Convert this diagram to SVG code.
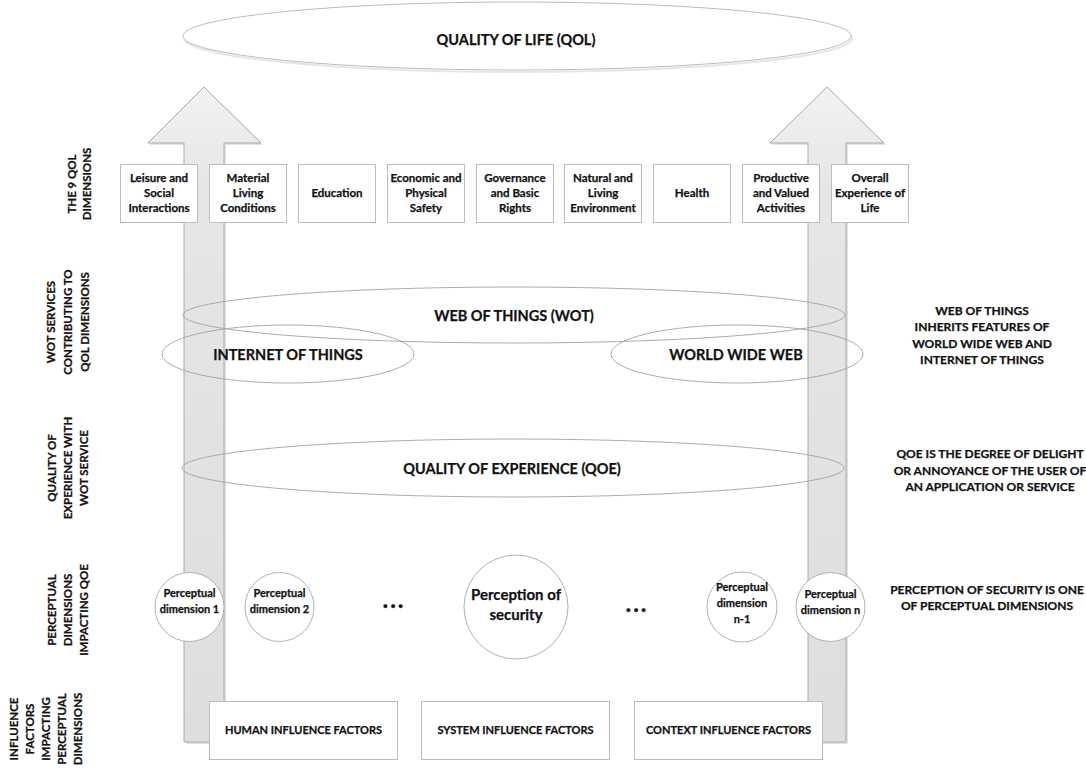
<svg xmlns="http://www.w3.org/2000/svg" width="1086" height="769" viewBox="0 0 1086 769">
<style>
text{font-family:Lato,"Liberation Sans",sans-serif;font-weight:bold;fill:#111;stroke:#111;stroke-width:0.25;text-anchor:middle}
.box{fill:#fff;stroke:#bdbdbd;stroke-width:1}
.ell{fill:none;stroke:#a3a3a3;stroke-width:0.9}
.cir{fill:#fff;stroke:#a8a8a8;stroke-width:0.9}
.arrow{fill:url(#ag);stroke:#a8a8a8;stroke-width:1}
.shadow{fill:#e2e2e2}
.lbl{font-size:11.5px}
.big{font-size:14.5px}
.bx{font-size:11.5px}
.pd{font-size:11px}
.note{font-size:12px}
.bf{font-size:11px}
.dots{font-size:24px;letter-spacing:2px}
</style>
<defs>
<linearGradient id="ag" x1="0" y1="0" x2="0" y2="1">
<stop offset="0" stop-color="#f2f2f2"/>
<stop offset="0.15" stop-color="#e6e6e6"/>
<stop offset="1" stop-color="#dedede"/>
</linearGradient>
</defs>
<rect width="1086" height="769" fill="#fff"/>

<g id="connectors">
<path class="shadow" d="M206,89 L263,145 L226,145 L226,744 L186,744 L186,145 L150,145 Z"/>
<path id="arrow-left" class="arrow" d="M204,87 L261,143 L224,143 L224,742 L184,742 L184,143 L148,143 Z"/>
<path class="shadow" d="M829,89 L886,145 L848,145 L848,744 L810,744 L810,145 L772,145 Z"/>
<path id="arrow-right" class="arrow" d="M827,87 L884,143 L846,143 L846,742 L808,742 L808,143 L770,143 Z"/>
</g>

<g id="qol">
<ellipse cx="518" cy="38" rx="334" ry="34" fill="none" stroke="#e6e6e6" stroke-width="2"/>
<ellipse cx="517" cy="36" rx="334" ry="34" fill="#fff" stroke="#bdbdbd" stroke-width="1"/>
<text x="516" y="45" class="big">QUALITY OF LIFE (QOL)</text>
</g>

<g id="side-labels">
<text class="lbl" transform="translate(0,184) rotate(-90)"><tspan x="0" y="76">THE 9 QOL</tspan><tspan x="0" y="91">DIMENSIONS</tspan></text>
<text class="lbl" transform="translate(0,322) rotate(-90)"><tspan x="0" y="55">WOT SERVICES</tspan><tspan x="0" y="72">CONTRIBUTING TO</tspan><tspan x="0" y="89">QOL DIMENSIONS</tspan></text>
<text class="lbl" transform="translate(0,468) rotate(-90)"><tspan x="0" y="56">QUALITY OF</tspan><tspan x="0" y="72">EXPERIENCE WITH</tspan><tspan x="0" y="88">WOT SERVICE</tspan></text>
<text class="lbl" transform="translate(0,610) rotate(-90)"><tspan x="0" y="56">PERCEPTUAL</tspan><tspan x="0" y="72">DIMENSIONS</tspan><tspan x="0" y="88">IMPACTING QOE</tspan></text>
<text class="lbl" transform="translate(0,729) rotate(-90)"><tspan x="0" y="18">INFLUENCE</tspan><tspan x="0" y="34">FACTORS</tspan><tspan x="0" y="50">IMPACTING</tspan><tspan x="0" y="66">PERCEPTUAL</tspan><tspan x="0" y="82">DIMENSIONS</tspan></text>
</g>

<g id="dim-leisure"><rect class="box" x="120.5" y="164.5" width="77" height="58"/><text class="bx" x="159" y="182">Leisure and<tspan x="159" y="197">Social</tspan><tspan x="159" y="212">Interactions</tspan></text></g>
<g id="dim-material"><rect class="box" x="209.5" y="164.5" width="77" height="58"/><text class="bx" x="248" y="182">Material<tspan x="248" y="197">Living</tspan><tspan x="248" y="212">Conditions</tspan></text></g>
<g id="dim-education"><rect class="box" x="298.5" y="164.5" width="77" height="58"/><text class="bx" x="337" y="197">Education</text></g>
<g id="dim-economic"><rect class="box" x="387.5" y="164.5" width="77" height="58"/><text class="bx" x="426" y="182">Economic and<tspan x="426" y="197">Physical</tspan><tspan x="426" y="212">Safety</tspan></text></g>
<g id="dim-governance"><rect class="box" x="476.5" y="164.5" width="77" height="58"/><text class="bx" x="515" y="182">Governance<tspan x="515" y="197">and Basic</tspan><tspan x="515" y="212">Rights</tspan></text></g>
<g id="dim-natural"><rect class="box" x="564.5" y="164.5" width="77" height="58"/><text class="bx" x="603" y="182">Natural and<tspan x="603" y="197">Living</tspan><tspan x="603" y="212">Environment</tspan></text></g>
<g id="dim-health"><rect class="box" x="653.5" y="164.5" width="77" height="58"/><text class="bx" x="692" y="197">Health</text></g>
<g id="dim-productive"><rect class="box" x="742.5" y="164.5" width="77" height="58"/><text class="bx" x="781" y="182">Productive<tspan x="781" y="197">and Valued</tspan><tspan x="781" y="212">Activities</tspan></text></g>
<g id="dim-overall"><rect class="box" x="831.5" y="164.5" width="77" height="58"/><text class="bx" x="870" y="182">Overall<tspan x="870" y="197">Experience of</tspan><tspan x="870" y="212">Life</tspan></text></g>

<g id="wot"><ellipse class="ell" cx="514" cy="315" rx="331" ry="28"/><text class="big" x="514" y="321">WEB OF THINGS (WOT)</text></g>
<g id="iot"><ellipse class="ell" cx="288" cy="354" rx="126" ry="29"/><text class="big" x="288" y="360">INTERNET OF THINGS</text></g>
<g id="www"><ellipse class="ell" cx="737" cy="354" rx="126" ry="29"/><text class="big" x="736" y="360">WORLD WIDE WEB</text></g>
<g id="qoe"><ellipse class="ell" cx="513" cy="468" rx="331" ry="29"/><text class="big" x="512" y="474">QUALITY OF EXPERIENCE (QOE)</text></g>

<g id="note-wot"><text class="note" x="982" y="315">WEB OF THINGS<tspan x="982" y="331">INHERITS FEATURES OF</tspan><tspan x="982" y="347.5">WORLD WIDE WEB AND</tspan><tspan x="982" y="364">INTERNET OF THINGS</tspan></text></g>
<g id="note-qoe"><text class="note" x="990" y="458">QOE IS THE DEGREE OF DELIGHT<tspan x="990" y="474.5">OR ANNOYANCE OF THE USER OF</tspan><tspan x="990" y="491">AN APPLICATION OR SERVICE</tspan></text></g>
<g id="note-pd"><text class="note" x="987" y="594">PERCEPTION OF SECURITY IS ONE<tspan x="987" y="610">OF PERCEPTUAL DIMENSIONS</tspan></text></g>

<g id="pd1"><circle class="cir" cx="189.5" cy="607" r="34.5"/><text class="pd" x="189.5" y="597">Perceptual<tspan x="189.5" y="613">dimension 1</tspan></text></g>
<g id="pd2"><circle class="cir" cx="279.5" cy="607" r="34.5"/><text class="pd" x="279.5" y="597">Perceptual<tspan x="279.5" y="613">dimension 2</tspan></text></g>
<g id="dots1"><text class="dots" x="394" y="608">...</text></g>
<g id="pd-security"><circle class="cir" cx="516" cy="607" r="52"/><text x="516" y="600" style="font-size:15px">Perception of<tspan x="516" y="620">security</tspan></text></g>
<g id="dots2"><text class="dots" x="637" y="612">...</text></g>
<g id="pd-n1"><circle class="cir" cx="742" cy="607" r="35"/><text class="pd" x="742" y="591">Perceptual<tspan x="742" y="607">dimension</tspan><tspan x="742" y="623">n-1</tspan></text></g>
<g id="pd-n"><circle class="cir" cx="830.5" cy="607" r="34.5"/><text class="pd" x="830.5" y="598">Perceptual<tspan x="830.5" y="614">dimension n</tspan></text></g>

<g id="if-human"><rect class="box" x="209.5" y="701.5" width="188" height="58"/><text class="bf" x="303.5" y="734">HUMAN INFLUENCE FACTORS</text></g>
<g id="if-system"><rect class="box" x="421.5" y="701.5" width="188" height="58"/><text class="bf" x="515.5" y="734">SYSTEM INFLUENCE FACTORS</text></g>
<g id="if-context"><rect class="box" x="634.5" y="701.5" width="188" height="58"/><text class="bf" x="728.5" y="734">CONTEXT INFLUENCE FACTORS</text></g>
</svg>
